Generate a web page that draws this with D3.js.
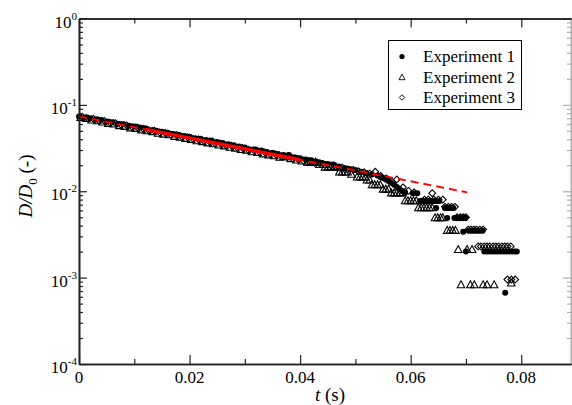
<!DOCTYPE html>
<html>
<head>
<meta charset="utf-8">
<script src="https://cdn.jsdelivr.net/npm/d3@7"></script>
<style>
  body { margin: 0; background: #fff; }
  svg { display: block; }
</style>
</head>
<body>
<svg id="chart" width="572" height="405"></svg>
<script>
// [t (s), D/D0]
const experiment1 = [
  [0.000,0.0735],[0.001,0.0712],[0.002,0.0698],[0.003,0.0676],[0.004,0.0668],[0.005,0.0641],
  [0.006,0.0629],[0.007,0.0605],[0.008,0.0598],[0.009,0.0574],[0.010,0.0562],[0.011,0.0548],
  [0.012,0.0535],[0.013,0.0508],[0.014,0.0502],[0.015,0.0488],[0.016,0.0476],[0.017,0.0461],
  [0.018,0.0452],[0.019,0.0436],[0.020,0.0428],[0.021,0.0412],[0.022,0.0405],[0.023,0.0391],
  [0.024,0.0386],[0.025,0.0371],[0.026,0.0362],[0.027,0.0349],[0.028,0.0341],[0.029,0.0329],
  [0.030,0.0322],[0.031,0.0305],[0.032,0.0304],[0.033,0.0296],[0.034,0.0285],[0.035,0.0279],
  [0.036,0.0270],[0.037,0.0262],[0.038,0.0262],[0.039,0.0247],[0.040,0.0241],[0.041,0.0233],
  [0.042,0.0228],[0.043,0.0219],[0.044,0.0213],[0.045,0.0207],[0.046,0.0204],[0.047,0.0194],
  [0.048,0.0186],[0.049,0.0181],[0.050,0.0176],[0.051,0.0168],[0.052,0.0163],[0.053,0.0156],
  [0.054,0.0152],[0.0545,0.0146],[0.055,0.0142],[0.0555,0.0137],[0.056,0.0131],[0.0565,0.0125],
  [0.057,0.0119],[0.0575,0.0112],[0.058,0.0106],[0.0585,0.0101],[0.059,0.0097],[0.0604,0.0095],
  [0.0612,0.0095],[0.0617,0.0077],[0.0622,0.0077],[0.0627,0.0077],[0.0632,0.0077],[0.0637,0.0077],
  [0.0642,0.0077],[0.0647,0.0077],[0.0652,0.0077],[0.0646,0.0064],[0.0662,0.0064],[0.0667,0.0064],
  [0.0672,0.0064],[0.0677,0.0064],[0.0666,0.0049],[0.0679,0.0049],[0.0684,0.0049],[0.0689,0.0049],
  [0.0694,0.0049],[0.0699,0.0049],[0.0695,0.0034],[0.0700,0.0020],[0.0705,0.0035],[0.0710,0.0035],
  [0.0715,0.0035],[0.0720,0.0035],[0.0725,0.0035],[0.0730,0.0035],[0.0733,0.0020],[0.0738,0.0020],
  [0.0743,0.0020],[0.0748,0.0020],[0.0753,0.0020],[0.0758,0.0020],[0.0763,0.0020],[0.0768,0.0020],
  [0.0773,0.0020],[0.0778,0.0020],[0.0783,0.0020],[0.0788,0.0020],[0.0792,0.0020],[0.0771,0.00067]
];

const experiment2 = [
  [0.0003,0.0708],[0.0013,0.0690],[0.0023,0.0662],[0.0033,0.0651],[0.0043,0.0628],[0.0053,0.0606],
  [0.0063,0.0597],[0.0073,0.0571],[0.0083,0.0560],[0.0093,0.0538],[0.0103,0.0531],[0.0113,0.0510],
  [0.0123,0.0497],[0.0133,0.0486],[0.0143,0.0466],[0.0153,0.0455],[0.0163,0.0447],[0.0173,0.0429],
  [0.0183,0.0418],[0.0193,0.0406],[0.0203,0.0395],[0.0213,0.0381],[0.0223,0.0373],[0.0233,0.0360],
  [0.0243,0.0352],[0.0253,0.0340],[0.0263,0.0333],[0.0273,0.0321],[0.0283,0.0313],[0.0293,0.0302],
  [0.0303,0.0296],[0.0313,0.0285],[0.0323,0.0279],[0.0333,0.0269],[0.0343,0.0262],[0.0353,0.0256],
  [0.0363,0.0246],[0.0370,0.0249],[0.0377,0.0249],[0.0383,0.0237],[0.0393,0.0228],[0.0403,0.0222],
  [0.0413,0.0216],[0.0418,0.0216],[0.0423,0.0216],[0.0428,0.0216],[0.0435,0.0203],[0.0445,0.0189],
  [0.0450,0.0189],[0.0455,0.0189],[0.0460,0.0189],[0.0465,0.0189],[0.0471,0.0166],[0.0476,0.0166],
  [0.0481,0.0166],[0.0486,0.0166],[0.0493,0.0156],[0.0503,0.0145],[0.0508,0.0145],[0.0513,0.0145],
  [0.0518,0.0145],[0.0521,0.0134],[0.0526,0.0134],[0.0530,0.0118],[0.0535,0.0118],[0.0540,0.0118],
  [0.0545,0.0118],[0.0550,0.0105],[0.0555,0.0105],[0.0560,0.0105],[0.0565,0.0095],[0.0570,0.0095],
  [0.0575,0.0095],[0.0580,0.0095],[0.0585,0.0095],[0.0590,0.0077],[0.0595,0.0077],[0.0600,0.0077],
  [0.0605,0.0077],[0.0610,0.0077],[0.0614,0.0064],[0.0619,0.0064],[0.0624,0.0064],[0.0629,0.0064],
  [0.0634,0.0064],[0.0639,0.0064],[0.0644,0.0049],[0.0649,0.0049],[0.0654,0.0049],[0.0658,0.0049],
  [0.0666,0.0035],[0.0671,0.0035],[0.0676,0.0035],[0.0681,0.0035],[0.0686,0.0021],[0.0691,0.00082],
  [0.0702,0.0021],[0.0708,0.00082],[0.0711,0.0021],[0.0715,0.00082],[0.0731,0.00082],[0.0738,0.00082],
  [0.0751,0.00082],[0.0782,0.00086]
];

const experiment3 = [
  [0.0006,0.0728],[0.0016,0.0699],[0.0026,0.0688],[0.0036,0.0660],[0.0046,0.0651],[0.0056,0.0622],
  [0.0066,0.0614],[0.0076,0.0587],[0.0086,0.0580],[0.0096,0.0553],[0.0106,0.0547],[0.0116,0.0530],
  [0.0126,0.0509],[0.0136,0.0503],[0.0146,0.0480],[0.0156,0.0474],[0.0166,0.0452],[0.0176,0.0448],
  [0.0186,0.0428],[0.0196,0.0424],[0.0206,0.0404],[0.0216,0.0399],[0.0226,0.0381],[0.0236,0.0377],
  [0.0246,0.0360],[0.0256,0.0356],[0.0266,0.0340],[0.0276,0.0336],[0.0286,0.0321],[0.0296,0.0317],
  [0.0306,0.0302],[0.0316,0.0299],[0.0326,0.0286],[0.0336,0.0282],[0.0346,0.0269],[0.0356,0.0266],
  [0.0366,0.0254],[0.0376,0.0251],[0.0386,0.0240],[0.0396,0.0237],[0.0406,0.0226],[0.0416,0.0224],
  [0.0426,0.0214],[0.0436,0.0211],[0.0446,0.0202],[0.0456,0.0199],[0.0466,0.0190],[0.0476,0.0188],
  [0.0486,0.0179],[0.0496,0.0177],[0.0506,0.0170],[0.0516,0.0166],[0.0526,0.0160],[0.0536,0.0168],
  [0.0546,0.0150],[0.0556,0.0141],[0.0566,0.0129],[0.0575,0.0137],[0.0586,0.0111],[0.0596,0.0101],
  [0.0606,0.0097],[0.0625,0.0080],[0.0632,0.0080],[0.0639,0.0095],[0.0642,0.0080],[0.0650,0.0080],
  [0.0658,0.0080],[0.0662,0.0066],[0.0668,0.0066],[0.0674,0.0066],[0.0680,0.0066],[0.0684,0.0050],
  [0.0690,0.0050],[0.0695,0.0050],[0.0700,0.0050],[0.0704,0.0036],[0.0709,0.0036],[0.0714,0.0036],
  [0.0719,0.0036],[0.0725,0.0036],[0.0731,0.0036],[0.0722,0.0023],[0.0727,0.0023],[0.0733,0.0023],
  [0.0738,0.0023],[0.0743,0.0023],[0.0749,0.0023],[0.0754,0.0023],[0.0759,0.0023],[0.0765,0.0023],
  [0.0770,0.0023],[0.0775,0.0023],[0.0781,0.0023],[0.0775,0.00095],[0.0782,0.00095],[0.0789,0.00095]
];

// exponential fit (straight on semi-log axes): dashed over the whole range, solid over the fitted part
const fitDashed = [[0, 0.0736], [0.0702, 0.0097]];
const fitSolid = [[0.012, 0.0520], [0.040, 0.0232]];

const xMajor = [0, 0.02, 0.04, 0.06, 0.08];
const xMinor = [0.01, 0.03, 0.05, 0.07];
const yDecades = [1, 0.1, 0.01, 0.001, 0.0001];
const yExponents = ["0", "-1", "-2", "-3", "-4"];
const legendLabels = ["Experiment 1", "Experiment 2", "Experiment 3"];

const serif = '"Liberation Serif"';
const svg = d3.select("#chart");
const plotLeft = 79, plotRight = 571, plotTop = 18.5, plotBottom = 364;

const x = d3.scaleLinear().domain([0, 0.089]).range([plotLeft, plotRight]);
const y = d3.scaleLog().domain([1e-4, 1]).range([plotBottom, plotTop]);

const yMinor = [];
yDecades.slice(1).forEach(d => { for (let m = 2; m <= 9; m++) yMinor.push(d * m); });

// ---- data points
const pts = svg.append("g");
pts.selectAll(".e1").data(experiment1).enter().append("circle")
  .attr("class", "e1")
  .attr("cx", d => x(d[0])).attr("cy", d => y(d[1])).attr("r", 3)
  .style("fill", "#000");

const tri = s => `M0,${-s*0.62}L${s*0.55},${s*0.4}L${-s*0.55},${s*0.4}Z`;
const dia = s => `M0,${-s/2}L${s/2},0L0,${s/2}L${-s/2},0Z`;

pts.selectAll(".e2").data(experiment2).enter().append("path")
  .attr("class", "e2")
  .attr("transform", d => `translate(${x(d[0])},${y(d[1])})`)
  .attr("d", tri(6.8))
  .style("fill", "none").style("stroke", "#000").style("stroke-width", 1.1);

pts.selectAll(".e3").data(experiment3).enter().append("path")
  .attr("class", "e3")
  .attr("transform", d => `translate(${x(d[0])},${y(d[1])})`)
  .attr("d", dia(6.8))
  .style("fill", "none").style("stroke", "#000").style("stroke-width", 1.1);

// ---- fit lines
const line = d3.line().x(d => x(d[0])).y(d => y(d[1]));
svg.append("path").datum(fitDashed).attr("d", line)
  .style("fill", "none").style("stroke", "#ff0000").style("stroke-width", 2)
  .style("stroke-dasharray", "8,5");
svg.append("path").datum(fitSolid).attr("d", line)
  .style("fill", "none").style("stroke", "#ff0000").style("stroke-width", 3.5);

// ---- axes (ticks point inward)
const axisStyle = g => {
  g.selectAll("path.domain").style("stroke", "#222").style("stroke-width", 1.6);
  g.selectAll(".tick line").style("stroke", "#222").style("stroke-width", 1.2);
  g.selectAll("text").remove();
};

svg.append("g").attr("transform", `translate(0,${plotBottom})`)
  .call(d3.axisBottom(x).tickValues(xMajor).tickSize(-9).tickSizeOuter(0)).call(axisStyle);
svg.append("g").attr("transform", `translate(0,${plotBottom})`)
  .call(d3.axisBottom(x).tickValues(xMinor).tickSize(-5).tickSizeOuter(0)).call(axisStyle);
svg.append("g").attr("transform", `translate(0,${plotTop})`)
  .call(d3.axisTop(x).tickValues(xMajor).tickSize(-9).tickSizeOuter(0)).call(axisStyle);
svg.append("g").attr("transform", `translate(0,${plotTop})`)
  .call(d3.axisTop(x).tickValues(xMinor).tickSize(-5).tickSizeOuter(0)).call(axisStyle);

svg.append("g").attr("transform", `translate(${plotLeft},0)`)
  .call(d3.axisLeft(y).tickValues(yDecades).tickSize(-8).tickSizeOuter(0)).call(axisStyle);
svg.append("g").attr("transform", `translate(${plotLeft},0)`)
  .call(d3.axisLeft(y).tickValues(yMinor).tickSize(-4).tickSizeOuter(0)).call(axisStyle);

// right frame is cut by the picture edge: drawn faint
const rightAxis = svg.append("g").attr("transform", `translate(${plotRight},0)`).style("opacity", 0.35);
rightAxis.call(d3.axisRight(y).tickValues(yDecades).tickSize(-8).tickSizeOuter(0)).call(axisStyle);
rightAxis.append("g").call(d3.axisRight(y).tickValues(yMinor).tickSize(-4).tickSizeOuter(0)).call(axisStyle);

// ---- tick labels
svg.append("g").selectAll("text").data(xMajor).enter().append("text")
  .attr("x", d => x(d)).attr("y", plotBottom + 19)
  .attr("text-anchor", "middle")
  .style("font-family", serif).style("font-size", "17px")
  .text(d => d === 0 ? "0" : d3.format(".2f")(d));

const yl = svg.append("g").selectAll("text").data(yDecades).enter().append("text")
  .attr("x", plotLeft - 2).attr("y", d => y(d) + 9)
  .attr("text-anchor", "end")
  .style("font-family", serif).style("font-size", "17px");
yl.append("tspan").text("10");
yl.append("tspan").attr("dy", -8).style("font-size", "11px").text((d, i) => yExponents[i]);

// ---- axis titles
const xt = svg.append("text").attr("x", 330).attr("y", 401)
  .attr("text-anchor", "middle")
  .style("font-family", serif).style("font-size", "19px");
xt.append("tspan").style("font-style", "italic").text("t");
xt.append("tspan").text(" (s)");

const yt = svg.append("text").attr("transform", "translate(32,186) rotate(-90)")
  .attr("text-anchor", "middle")
  .style("font-family", serif).style("font-size", "19px");
yt.append("tspan").style("font-style", "italic").text("D/D");
yt.append("tspan").attr("dy", 5).style("font-size", "13px").text("0");
yt.append("tspan").attr("dy", -5).text(" (-)");

// ---- legend
const lg = svg.append("g");
lg.append("rect").attr("x", 388.5).attr("y", 40.5).attr("width", 133).attr("height", 69)
  .style("fill", "#fff").style("stroke", "#000").style("stroke-width", 1);
const rows = [56.5, 77.5, 97.5];
lg.append("circle").attr("cx", 402).attr("cy", rows[0]).attr("r", 2.6).style("fill", "#000");
lg.append("path").attr("transform", `translate(402,${rows[1]})`).attr("d", tri(5.5))
  .style("fill", "none").style("stroke", "#000").style("stroke-width", 0.9);
lg.append("path").attr("transform", `translate(402,${rows[2]})`).attr("d", dia(5.5))
  .style("fill", "none").style("stroke", "#000").style("stroke-width", 0.9);
lg.selectAll(".lt").data(legendLabels).enter().append("text")
  .attr("class", "lt")
  .attr("x", 423).attr("y", (d, i) => rows[i] + 5.5)
  .style("font-family", serif).style("font-size", "17px").text(d => d);
</script>
</body>
</html>
